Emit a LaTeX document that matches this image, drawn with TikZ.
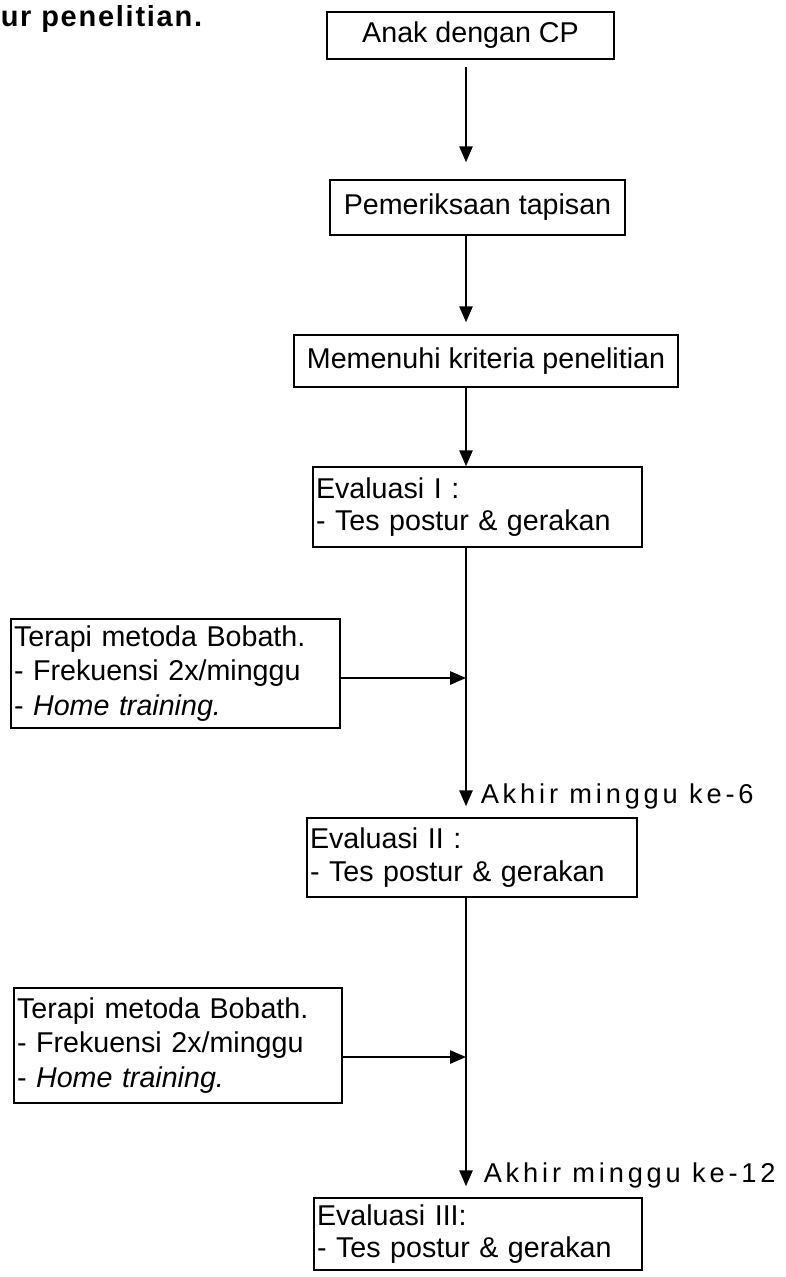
\documentclass[tikz,border=0pt]{standalone}
\usepackage{fontspec}
\setmainfont{Liberation Sans}
\usetikzlibrary{arrows.meta,calc}
\newcommand{\isifont}{\fontsize{16.3}{18.5}\selectfont}
\newcommand{\terapifont}{\fontsize{16.3}{19.5}\selectfont}
\newcommand{\judulfont}{\fontsize{16.5}{18}\selectfont\bfseries\addfontfeature{LetterSpace=6}}
\newcommand{\mingfont}{\fontsize{15.5}{17}\selectfont\addfontfeature{LetterSpace=14}}
\tikzset{>={Triangle[length=9pt,width=7.5pt]}}

\begin{document}
\begin{tikzpicture}[x=0.02cm, y=-0.02cm, line width=0.9pt,
	kotak/.style={draw, font=\isifont, inner sep=0.06cm},
	kotakkiri/.style={kotak, align=left, text width=#1},
	panah/.style={->, line width=1.1pt}]

	\useasboundingbox (0,0) rectangle (786,1277);
	\coordinate (sumbu) at (466,0);

	\node[anchor=base west, inner sep=0] (judul) at (0,27) {\judulfont ur penelitian.};

	\node[kotak, minimum width=5.74cm, minimum height=0.94cm] (anak) at (470.5,35.5) {Anak dengan CP};
	\node[kotak, minimum width=5.9cm, minimum height=1.1cm] (tapis) at (477.5,207.5) {Pemeriksaan tapisan};
	\node[kotak, minimum width=7.68cm, minimum height=1.04cm] (kriteria) at (486,361) {Memenuhi kriteria penelitian};

	\node[kotakkiri=6.46cm, minimum height=1.6cm] (evalA) at (477.5,507) {Evaluasi I :\\- Tes postur \& gerakan};
	\node[kotakkiri=6.46cm, minimum height=2.18cm, font=\terapifont] (terapiA) at (175.5,673.5) {Terapi metoda Bobath.\\- Frekuensi 2x/minggu\\- \textit{Home training.}};
	\node[kotakkiri=6.48cm, minimum height=1.58cm] (evalB) at (472,857.5) {Evaluasi II :\\- Tes postur \& gerakan};
	\node[kotakkiri=6.44cm, minimum height=2.3cm, font=\terapifont] (terapiB) at (178,1045.5) {Terapi metoda Bobath.\\- Frekuensi 2x/minggu\\- \textit{Home training.}};
	\node[kotakkiri=6.44cm, minimum height=1.44cm] (evalC) at (478,1234) {Evaluasi III:\\- Tes postur \& gerakan};

	% alur utama
	\draw[panah, shorten <=0.14cm, shorten >=0.34cm] (anak.south -| sumbu) -- (tapis.north -| sumbu);
	\draw[panah, shorten >=0.24cm] (tapis.south -| sumbu) -- (kriteria.north -| sumbu);
	\draw[panah] (kriteria.south -| sumbu) -- (evalA.north -| sumbu);

	\coordinate (ujungA) at ($(evalB.north -| sumbu)+(0,-11)$);
	\coordinate (ujungB) at ($(evalC.north -| sumbu)+(0,-11)$);
	\draw[panah] (evalA.south -| sumbu) -- (ujungA);
	\draw[panah] (evalB.south -| sumbu) -- (ujungB);
	\node[anchor=base west, inner sep=0] (mingguA) at ($(ujungA)+(14,-3)$) {\mingfont Akhir minggu ke-6};
	\node[anchor=base west, inner sep=0] (mingguB) at ($(ujungB)+(17,-4)$) {\mingfont Akhir minggu ke-12};

	% terapi masuk ke alur
	\coordinate (keluarA) at ($(terapiA.east)+(0,4.5)$);
	\coordinate (keluarB) at ($(terapiB.east)+(0,11.5)$);
	\draw[panah] (keluarA) -- (keluarA -| sumbu);
	\draw[panah] (keluarB) -- (keluarB -| sumbu);

\end{tikzpicture}
\end{document}
